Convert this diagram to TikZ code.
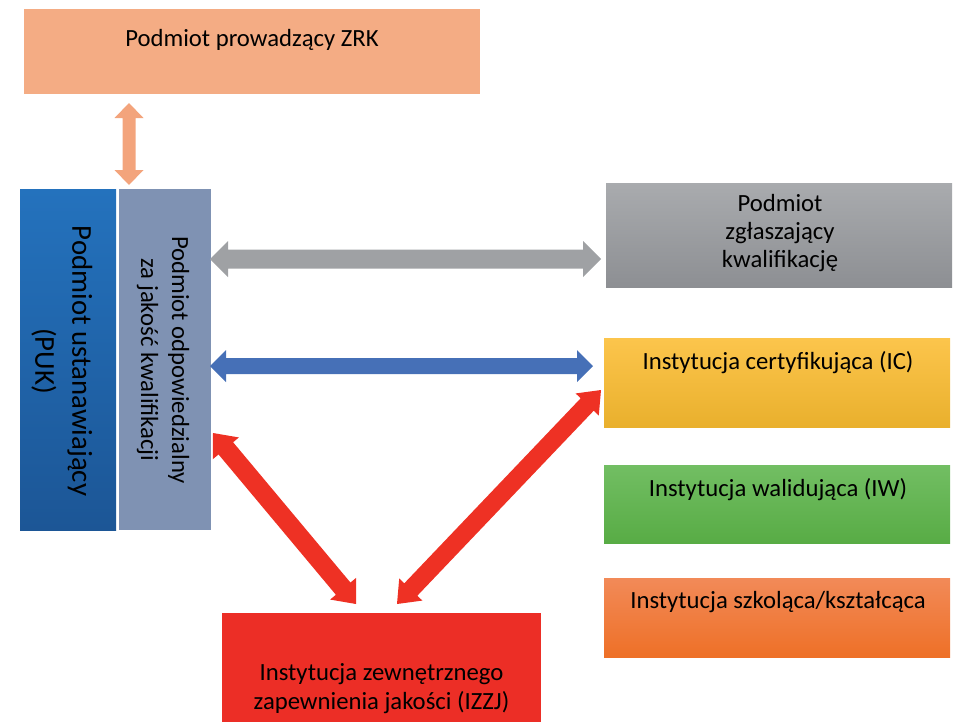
\documentclass[tikz,border=0pt]{standalone}
\usepackage{fontspec}
\setmainfont{Carlito}
\usetikzlibrary{calc}
\definecolor{zrkc}{HTML}{F4AC84}
\definecolor{orarrow}{HTML}{F3A47C}
\definecolor{pukTop}{HTML}{2472BD}
\definecolor{pukBot}{HTML}{1C5696}
\definecolor{qualc}{HTML}{7F92B3}
\definecolor{zglTop}{HTML}{A9ABAE}
\definecolor{zglBot}{HTML}{8D8F93}
\definecolor{grayarrow}{HTML}{9FA1A4}
\definecolor{bluearrow}{HTML}{4670B7}
\definecolor{icTop}{HTML}{FCC54C}
\definecolor{icBot}{HTML}{E9B02D}
\definecolor{iwTop}{HTML}{72BE63}
\definecolor{iwBot}{HTML}{58AC45}
\definecolor{isTop}{HTML}{F28A58}
\definecolor{isBot}{HTML}{EE7027}
\definecolor{redc}{HTML}{EC2E26}
\definecolor{redarrow}{HTML}{EE3124}
% from, to, half shaft, half head, head length, colour
\newcommand\dblblockarrow[6]{%
  \fill[#6] (#1)
    -- ($($(#1)!#5!(#2)$)!#4!90:(#2)$)
    -- ($($(#1)!#5!(#2)$)!#3!90:(#2)$)
    -- ($($(#2)!#5!(#1)$)!#3!-90:(#1)$)
    -- ($($(#2)!#5!(#1)$)!#4!-90:(#1)$)
    -- (#2)
    -- ($($(#2)!#5!(#1)$)!#4!90:(#1)$)
    -- ($($(#2)!#5!(#1)$)!#3!90:(#1)$)
    -- ($($(#1)!#5!(#2)$)!#3!-90:(#2)$)
    -- ($($(#1)!#5!(#2)$)!#4!-90:(#2)$)
    -- cycle;}
\begin{document}
\begin{tikzpicture}[x=1pt,y=-1pt,
  box/.style={rectangle, draw=none, inner sep=0pt, outer sep=0pt},
  lbl/.style={font=\fontsize{24.7}{28}\selectfont, align=center, text=black, inner sep=0pt}]
\useasboundingbox (0,0) rectangle (953,721);
\clip (0,0) rectangle (953,721);

% boxes
\node[box, minimum width=456pt, minimum height=85pt, fill=zrkc] (zrk) at (252,51.5) {};
\node[lbl] (zrkt) at (252,40) {Podmiot prowadzący ZRK};

\node[box, minimum width=96pt, minimum height=341pt,
      top color=pukTop, bottom color=pukBot] (puk) at (68,359.5) {};
\node[lbl, rotate=-90, font=\fontsize{28.8}{37}\selectfont] (pukt) at (62,361)
  {Podmiot ustanawiający\\(PUK)};

\node[box, minimum width=92pt, minimum height=341pt, fill=qualc] (qual) at (165,359.5) {};
\node[lbl, rotate=-90, font=\fontsize{24.7}{31}\selectfont] (qualt) at (163,360)
  {Podmiot odpowiedzialny\\za jakość kwalifikacji};

\node[box, minimum width=346pt, minimum height=104pt,
      top color=zglTop, bottom color=zglBot] (zgl) at (779,235) {};
\node[lbl] (zglt) at (780,233) {Podmiot\\zgłaszający\\kwalifikację};

\node[box, minimum width=346pt, minimum height=89pt,
      top color=icTop, bottom color=icBot] (ic) at (777,382.5) {};
\node[lbl] (ict) at (778,363) {Instytucja certyfikująca (IC)};

\node[box, minimum width=346pt, minimum height=78pt,
      top color=iwTop, bottom color=iwBot] (iw) at (777,504) {};
\node[lbl] (iwt) at (778,490) {Instytucja walidująca (IW)};

\node[box, minimum width=346pt, minimum height=79pt,
      top color=isTop, bottom color=isBot] (is) at (777,617.5) {};
\node[lbl] (ist) at (778,602) {Instytucja szkoląca/kształcąca};

\node[box, minimum width=319pt, minimum height=151pt, fill=redc] (izzj) at (381.5,688.5) {};
\node[lbl, font=\fontsize{24.7}{29}\selectfont] (izzjt) at (381.5,688.5)
  {Instytucja zewnętrznego\\zapewnienia jakości (IZZJ)};

% arrow end points
\coordinate (o1) at (129,103);
\coordinate (o2) at (129,185);
\coordinate (g1) at (210,259);
\coordinate (g2) at (601,259);
\coordinate (b1) at (210,366);
\coordinate (b2) at (593,366);
\coordinate (r1a) at (213,433);
\coordinate (r1b) at (356,604);
\coordinate (r2a) at (397,604);
\coordinate (r2b) at (601,390);

\dblblockarrow{o1}{o2}{6.5pt}{14.5pt}{15pt}{orarrow}
\dblblockarrow{g1}{g2}{9.5pt}{18pt}{18pt}{grayarrow}
\dblblockarrow{b1}{b2}{8pt}{16pt}{16pt}{bluearrow}
\dblblockarrow{r1a}{r1b}{9.5pt}{17pt}{20pt}{redarrow}
\dblblockarrow{r2a}{r2b}{9pt}{16pt}{20pt}{redarrow}
\end{tikzpicture}
\end{document}
